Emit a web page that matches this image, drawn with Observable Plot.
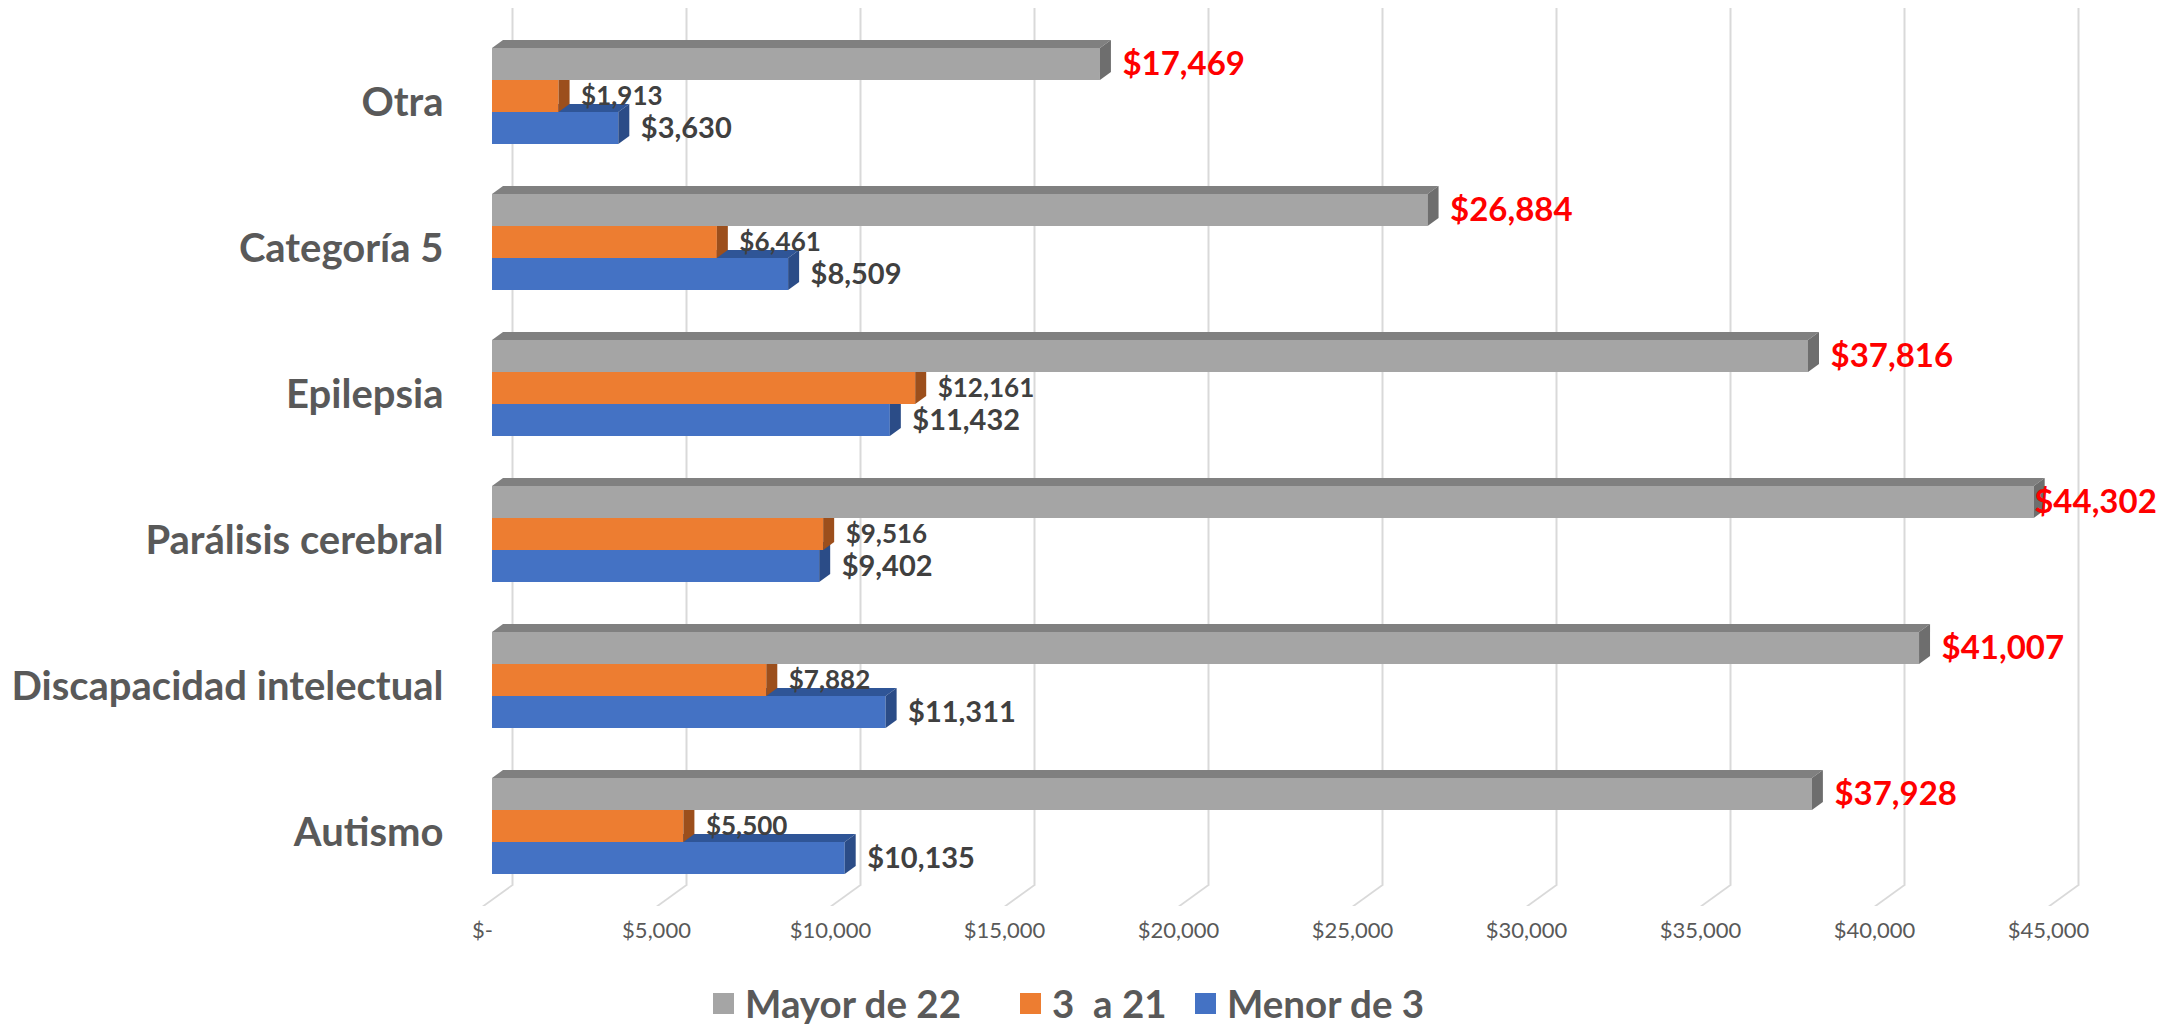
<!DOCTYPE html>
<html>
<head>
<meta charset="utf-8">
<script src="https://cdn.jsdelivr.net/npm/d3@7"></script>
<script src="https://cdn.jsdelivr.net/npm/@observablehq/plot@0.6"></script>
<style>
  html, body { margin: 0; padding: 0; background: #ffffff; }
  body { width: 2184px; height: 1028px; position: relative; overflow: hidden; font-family: Lato, "Open Sans", sans-serif; }
  #chart { position: absolute; left: 0; top: 0; }
  rect[aria-label="top-face"], g[aria-description="top-face"] rect { transform-box: fill-box; transform-origin: 0 100%; transform: skewX(-53.97deg); }
  rect[aria-label="side-face"], g[aria-description="side-face"] rect { transform-box: fill-box; transform-origin: 0 0; transform: skewY(-36.03deg); }
  line[aria-label="floor"], g[aria-description="floor"] line { transform-box: fill-box; transform-origin: 0 0; transform: skewX(-54.1deg); }
  .legend { position: absolute; top: 978px; left: 0; width: 2184px; height: 50px; }
  .legend .item { position: absolute; top: 0; height: 50px; display: flex; align-items: center; font-weight: 700; font-size: 38.5px; color: #595959; white-space: pre; }
  .legend .sw { width: 21px; height: 21px; margin-right: 11px; }
</style>
</head>
<body>
<div id="chart"></div>
<div class="legend" id="legend"></div>
<script>
// ---- data ----
const categories = ["Otra", "Categoría 5", "Epilepsia", "Parálisis cerebral", "Discapacidad intelectual", "Autismo"];
const mayor22 = [17469, 26884, 37816, 44302, 41007, 37928];
const de3a21  = [1913, 6461, 12161, 9516, 7882, 5500];
const menor3  = [3630, 8509, 11432, 9402, 11311, 10135];
const seriesNames = ["Mayor de 22", "3  a 21", "Menor de 3"];
const frontColors = ["#a5a5a5", "#ed7d31", "#4472c4"];
const topColors   = ["#808080", "#b35d22", "#2f5597"];
const sideColors  = ["#6e6e6e", "#9c4f1c", "#2b4c87"];
const labelColors = ["#ff0000", "#404040", "#404040"];
const xTicks = [0, 5000, 10000, 15000, 20000, 25000, 30000, 35000, 40000, 45000];

const seriesValues = [mayor22, de3a21, menor3];
const rowsBySeries = seriesValues.map((vals, s) =>
  categories.map((cat, i) => ({cat, series: seriesNames[s], value: vals[i]})));

const fmtMoney = v => v === 0 ? "$-" : "$" + d3.format(",")(v);
const xMax = 45000;
const barH = 32;
const offsets = [-barH, 0, barH];   // gray above, orange middle, blue below
const labelSizes = [33, 26, 29];

const tag = name => ({ariaLabel: () => name, ariaDescription: name});

const marks = [
  // back-wall gridlines
  Plot.ruleX(xTicks, {x: d => d, dx: 20, insetBottom: 21, stroke: "#d9d9d9", strokeWidth: 2}),
  // floor diagonals
  Plot.ruleX(xTicks, {x: d => d, dx: 20, insetTop: 877, stroke: "#d9d9d9", strokeWidth: 3, ...tag("floor")})
];

// draw blue, orange, gray (bottom to top)
for (const s of [2, 1, 0]) {
  const rows = rowsBySeries[s];
  const off = offsets[s];
  marks.push(
    Plot.barX(rows, {x: "value", y: "cat", fill: topColors[s], dy: off - 8, insetBottom: barH - 8, ...tag("top-face")}),
    Plot.barX(rows, {x: "value", y: "cat", fill: frontColors[s], dy: off}),
    Plot.barX(rows, {x1: "value", x2: "value", y: "cat", fill: sideColors[s], dy: off, insetRight: -11, ...tag("side-face")})
  );
}

// value labels
for (const s of [2, 1, 0]) {
  const rows = rowsBySeries[s];
  const off = offsets[s];
  const fits = rows.filter(d => d.value < 0.95 * xMax);
  const overflow = rows.filter(d => d.value >= 0.95 * xMax);
  const opts = dx => ({x: "value", y: "cat", text: d => fmtMoney(d.value), dx, dy: off, textAnchor: "start",
    fill: labelColors[s], fontSize: labelSizes[s], fontWeight: 700});
  marks.push(Plot.text(fits, opts(22)));
  if (overflow.length) marks.push(Plot.text(overflow, opts(0)));
}

// category labels
marks.push(Plot.text(categories, {y: d => d, text: d => d, frameAnchor: "left", textAnchor: "end", dx: -49, dy: 7,
  fill: "#595959", fontSize: 40, fontWeight: 700}));

// x tick labels
marks.push(Plot.text(xTicks, {x: d => d, text: d => fmtMoney(d), frameAnchor: "bottom", dy: 31, dx: -10,
  fill: "#595959", fontSize: 22}));

const chart = Plot.plot({
  width: 2184,
  height: 960,
  marginLeft: 492,
  marginRight: 126,
  marginTop: 8,
  marginBottom: 54,
  style: {fontFamily: "Lato, 'Open Sans', sans-serif", background: "transparent", overflow: "visible"},
  x: {domain: [0, xMax], range: [492, 2058], axis: null},
  y: {type: "band", domain: categories, range: [78.5, 843.5], paddingInner: 0.7817, paddingOuter: 0, align: 0.5, axis: null},
  marks
});
document.getElementById("chart").appendChild(chart);

// legend
const legendLeft = [713, 1020, 1195];
const legend = document.getElementById("legend");
seriesNames.forEach((name, s) => {
  const item = document.createElement("div");
  item.className = "item";
  item.style.left = legendLeft[s] + "px";
  const sw = document.createElement("span");
  sw.className = "sw";
  sw.style.background = frontColors[s];
  item.appendChild(sw);
  item.appendChild(document.createTextNode(name));
  legend.appendChild(item);
});
</script>
</body>
</html>
